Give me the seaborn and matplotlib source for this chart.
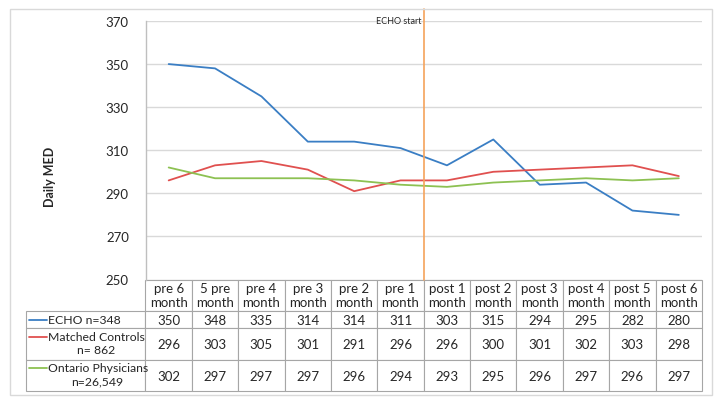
import pandas as pd
import matplotlib
matplotlib.use("Agg")
import matplotlib.pyplot as plt
import seaborn as sns
from matplotlib.lines import Line2D
from matplotlib.patches import Rectangle

months = ['pre 6\nmonth', '5 pre\nmonth', 'pre 4\nmonth', 'pre 3\nmonth', 'pre 2\nmonth', 'pre 1\nmonth',
          'post 1\nmonth', 'post 2\nmonth', 'post 3\nmonth', 'post 4\nmonth', 'post 5\nmonth', 'post 6\nmonth']
echo = [350, 348, 335, 314, 314, 311, 303, 315, 294, 295, 282, 280]
matched = [296, 303, 305, 301, 291, 296, 296, 300, 301, 302, 303, 298]
ontario = [302, 297, 297, 297, 296, 294, 293, 295, 296, 297, 296, 297]
groups = ['ECHO n=348', 'Matched Controls\nn= 862', 'Ontario Physicians\nn=26,549']
colors = ['#3A7EC4', '#E0504F', '#8DC152']
yticks = [250, 270, 290, 310, 330, 350, 370]

sns.set_style("white")
plt.rcParams['font.family'] = ['Lato', 'DejaVu Sans']

W, H = 722, 406
fig = plt.figure(figsize=(W / 100, H / 100), dpi=100)

def fx(x):
    return x / W

def fy(y):
    return 1 - y / H

left, right, top, bottom = 145.5, 702, 22, 280.5
ax = fig.add_axes([fx(left), fy(bottom), (right - left) / W, (bottom - top) / H])

# long-form data for seaborn
rows = []
for g, vals in zip(groups, [echo, matched, ontario]):
    for i, v in enumerate(vals):
        rows.append({'idx': i, 'value': v, 'group': g})
df = pd.DataFrame(rows)

sns.lineplot(data=df, x='idx', y='value', hue='group', palette=colors,
             legend=False, linewidth=1.3, ax=ax)

ax.set_xlim(-0.5, len(months) - 0.5)
ax.set_ylim(250, 370)
ax.set_yticks(yticks)
ax.set_xticks([])
ax.set_xlabel('')
ax.set_ylabel('')
ax.yaxis.grid(True, color='#D9D9D9', linewidth=1)
ax.tick_params(axis='y', length=0, pad=12, labelsize=9.5)
for s in ['top', 'right', 'bottom']:
    ax.spines[s].set_visible(False)
ax.spines['left'].set_color('#BFBFBF')
ax.spines['left'].set_linewidth(1)

# ECHO start marker
ax.axvline(5.5, ymin=0, ymax=(bottom - 10) / (bottom - top), color='#F5A35B',
           linewidth=1.2, clip_on=False)
fig.text(fx(376), fy(21), 'ECHO start', fontsize=6.5, va='center', ha='left')

fig.text(fx(50), fy(177), 'Daily MED', rotation=90, fontsize=9, fontweight='bold',
         va='center', ha='center')

# data table under the axes, first column holds the series labels
cell_text = [[''] + [str(v) for v in vals] for vals in [echo, matched, ontario]]
label_w = (left - 26) / (right - left)
tab_h = (392 - bottom) / (bottom - top)
tbl = ax.table(cellText=cell_text, colLabels=[''] + months,
               cellLoc='center', colWidths=[label_w] + [1 / 12] * 12,
               bbox=[-label_w, -tab_h, 1 + label_w, tab_h])
tbl.auto_set_font_size(False)
tbl.set_fontsize(9.5)
heights = {0: 32, 1: 17, 2: 32, 3: 31}
for (r, c), cell in tbl.get_celld().items():
    cell.set_edgecolor('#A6A6A6')
    cell.set_linewidth(0.8)
    cell.set_height(heights[r] / 100)
    cell.get_text().set_linespacing(1.2)
    if r == 0 and c == 0:
        cell.visible_edges = ''

# row labels with legend keys
label_y = [321, 338, 369]
for g, c, y in zip(groups, colors, label_y):
    fig.add_artist(Line2D([fx(29), fx(47)], [fy(y), fy(y)], color=c, linewidth=1.3))
    fig.text(fx(47.5), fy(y - 6), g, fontsize=8.8, ha='left', va='top',
             multialignment='center', linespacing=1.25)

# outer frame
fig.add_artist(Rectangle((fx(10), fy(396)), (712 - 10) / W, (396 - 10) / H,
                         transform=fig.transFigure, fill=False,
                         edgecolor='#D9D9D9', linewidth=1))

fig.savefig('out.png', dpi=100)
